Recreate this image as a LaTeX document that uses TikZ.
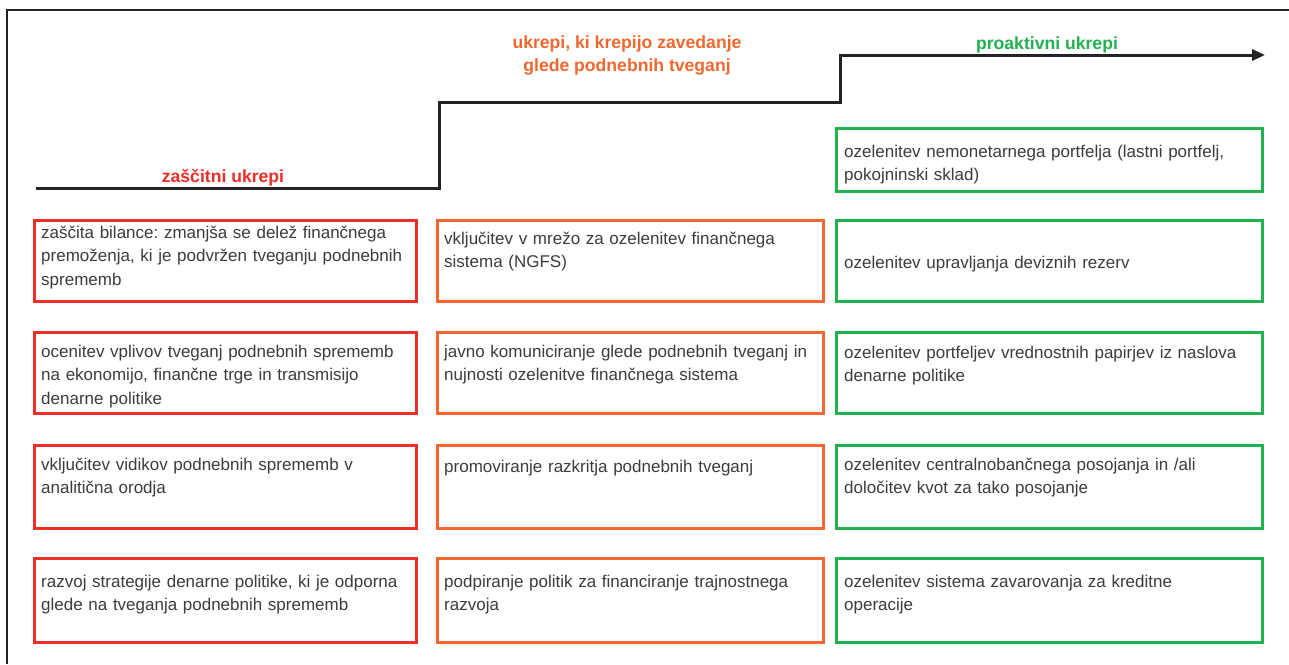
\documentclass[tikz,border=0pt]{standalone}
\usepackage{fontspec}
\setmainfont{Liberation Sans}
\usetikzlibrary{arrows.meta}
\frenchspacing
\definecolor{cred}{RGB}{236,45,40}
\definecolor{corange}{RGB}{240,104,48}
\definecolor{cgreen}{RGB}{34,176,80}
\definecolor{ctext}{RGB}{60,60,60}
\definecolor{cline}{RGB}{35,35,35}
\tikzset{
  boxbase/.style={draw, line width=3pt, inner sep=0pt, anchor=north west},
  redbox/.style={boxbase, draw=cred},
  orbox/.style={boxbase, draw=corange},
  grbox/.style={boxbase, draw=cgreen},
  btext/.style={anchor=base west, inner sep=0pt, text width=440pt, align=left, text=ctext,
    font=\fontsize{17}{23.5}\selectfont},
  ttl/.style={anchor=base, inner sep=0pt, align=center, font=\bfseries\fontsize{17.6}{23}\selectfont},
  stair/.style={line width=3pt, draw=cline},
}
\begin{document}
\begin{tikzpicture}[x=1pt,y=-1pt]
\useasboundingbox (0,0) rectangle (1289,664);
\fill[white] (0,0) rectangle (1289,664);
% frame
\coordinate (fb) at (7,664);
\coordinate (fc) at (7,10);
\coordinate (fr) at (1289,10);
\draw[line width=1.5pt, draw=cline] (fb) -- (fc) -- (fr);
% staircase
\coordinate (s0) at (36,188);
\coordinate (s1) at (439,188);
\coordinate (s2) at (439,102);
\coordinate (s3) at (840,102);
\coordinate (s4) at (840,55);
\coordinate (s5) at (1265,55);
\draw[stair, -{Triangle[length=13pt,width=11pt]}] (s0) -- (s1) -- (s2) -- (s3) -- (s4) -- (s5);
% titles
\node[ttl, text=cred] (t1) at (223,182) {zaščitni ukrepi};
\node[ttl, text=corange] (t2) at (627,71) {ukrepi, ki krepijo zavedanje\\glede podnebnih tveganj};
\node[ttl, text=cgreen] (t3) at (1047,49) {proaktivni ukrepi};
% column 1
\node[redbox, minimum width=382pt, minimum height=81pt] (a1) at (33,219) {};
\node[redbox, minimum width=382pt, minimum height=81pt] (a2) at (33,331) {};
\node[redbox, minimum width=382pt, minimum height=83pt] (a3) at (33,444) {};
\node[redbox, minimum width=382pt, minimum height=84pt] (a4) at (33,557) {};
\node[btext] (at1) at (41,238) {zaščita bilance: zmanjša se delež finančnega\\premoženja, ki je podvržen tveganju podnebnih\\sprememb};
\node[btext] (at2) at (41,357) {ocenitev vplivov tveganj podnebnih sprememb\\na ekonomijo, finančne trge in transmisijo\\denarne politike};
\node[btext] (at3) at (41,470) {vključitev vidikov podnebnih sprememb v\\analitična orodja};
\node[btext] (at4) at (41,587) {razvoj strategije denarne politike, ki je odporna\\glede na tveganja podnebnih sprememb};
% column 2
\node[orbox, minimum width=386pt, minimum height=81pt] (b1) at (436,219) {};
\node[orbox, minimum width=386pt, minimum height=81pt] (b2) at (436,331) {};
\node[orbox, minimum width=386pt, minimum height=83pt] (b3) at (436,444) {};
\node[orbox, minimum width=386pt, minimum height=84pt] (b4) at (436,557) {};
\node[btext] (bt1) at (444,244) {vključitev v mrežo za ozelenitev finančnega\\sistema (NGFS)};
\node[btext] (bt2) at (444,357) {javno komuniciranje glede podnebnih tveganj in\\nujnosti ozelenitve finančnega sistema};
\node[btext] (bt3) at (444,472) {promoviranje razkritja podnebnih tveganj};
\node[btext] (bt4) at (444,587) {podpiranje politik za financiranje trajnostnega\\razvoja};
% column 3
\node[grbox, minimum width=426pt, minimum height=63pt] (c0) at (835,127) {};
\node[grbox, minimum width=426pt, minimum height=81pt] (c1) at (835,219) {};
\node[grbox, minimum width=426pt, minimum height=81pt] (c2) at (835,331) {};
\node[grbox, minimum width=426pt, minimum height=83pt] (c3) at (835,444) {};
\node[grbox, minimum width=426pt, minimum height=84pt] (c4) at (835,557) {};
\node[btext] (ct0) at (844,157) {ozelenitev nemonetarnega portfelja (lastni portfelj,\\pokojninski sklad)};
\node[btext] (ct1) at (844,268) {ozelenitev upravljanja deviznih rezerv};
\node[btext] (ct2) at (844,358) {ozelenitev portfeljev vrednostnih papirjev iz naslova\\denarne politike};
\node[btext] (ct3) at (844,470) {ozelenitev centralnobančnega posojanja in /ali\\določitev kvot za tako posojanje};
\node[btext] (ct4) at (844,587) {ozelenitev sistema zavarovanja za kreditne\\operacije};
\end{tikzpicture}
\end{document}
